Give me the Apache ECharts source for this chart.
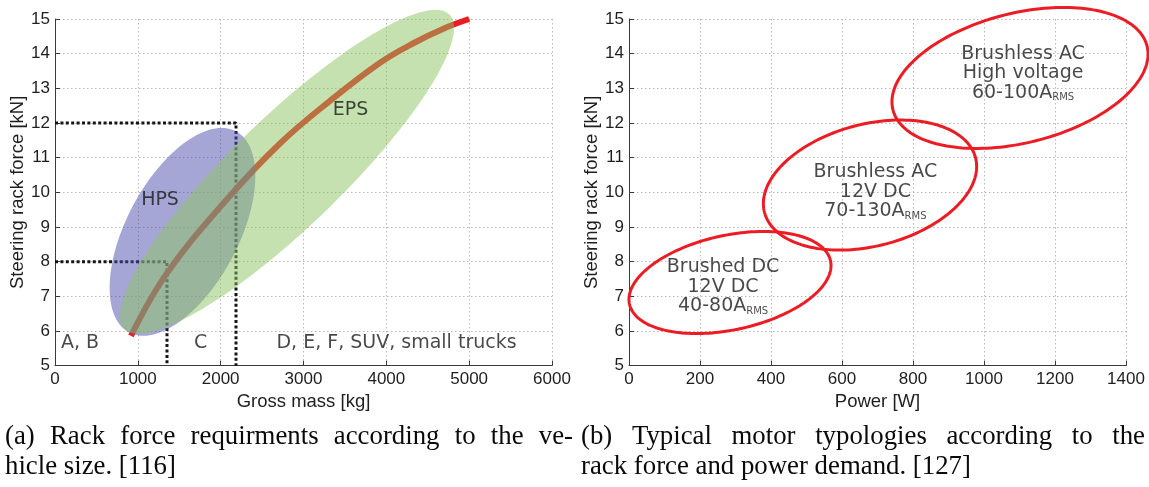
<!DOCTYPE html>
<html><head><meta charset="utf-8">
<script src="https://cdn.jsdelivr.net/npm/echarts@6/dist/echarts.min.js"></script>
<style>html,body{margin:0;padding:0;background:#fff}#c{width:1149px;height:487px}</style>
</head><body><div id="c"></div>
<script>
// ---------- Data: chart (a) ----------
const massTicksMax = 6000;
const massCurve  = [917, 1352, 2076, 2716, 3320, 3924, 4326, 4729, 5000];
const forceCurve = [5.86, 7.67, 9.80, 11.41, 12.64, 13.74, 14.30, 14.76, 15.0];
// ellipse: [centre mass, centre force, axis1 dMass, axis1 dForce, axis2 dMass, axis2 dForce]
const hpsRegion = [1539, 8.86, 646, 2.90, 597, -0.76];
const epsRegion = [2801, 10.59, 1963, 4.53, 461, -1.14];
const guide12 = [[0, 12], [2185, 12], [2185, 5]];
const guide8  = [[0, 8], [1352, 8], [1352, 5]];
const regionLabels = ['HPS', 'EPS', 'A, B', 'C', 'D, E, F, SUV, small trucks'];
const regionLabelMass  = [1268, 3568, 302, 1757, 4123];
const regionLabelForce = [9.78, 12.36, 5.64, 5.64, 5.64];

// ---------- Data: chart (b) ----------
const motorRegions = [
  [284.5, 7.40, 283.2, 0.622, 27.9, -1.334],
  [678.9, 10.21, 297.3, 0.787, 43.0, -1.703],
  [1101.4, 13.30, 357.9, 0.920, 44.5, -1.813]
];
const motorType    = ['Brushed DC', 'Brushless AC', 'Brushless AC'];
const motorVoltage = ['12V DC', '12V DC', 'High voltage'];
const motorCurrent = ['40-80A', '70-130A', '60-100A'];
const motorLabelPower = [265, 694, 1110];
const motorLabelForce = [7.27, 10.02, 13.43];

const captionA = ['(a) Rack force requirments according to the ve-', 'hicle size. [116]'];
const captionB = ['(b) Typical motor typologies according to the', 'rack force and power demand. [127]'];

// ---------- Styling ----------
const tickFont = '"Liberation Sans", Arial, sans-serif';
const txtFont = '"DejaVu Sans", Verdana, sans-serif';
const serif = '"Liberation Serif", "Times New Roman", serif';
const capSize = 26.8;

function ellipseSeries(idx, data, style, z) {
  return {
    type: 'custom', xAxisIndex: idx, yAxisIndex: idx, data: data, silent: true, clip: false, z: z,
    renderItem: function (params, api) {
      const cx = api.value(0), cy = api.value(1), ax = api.value(2), ay = api.value(3), bx = api.value(4), by = api.value(5);
      const pts = [];
      for (let i = 0; i < 180; i++) {
        const t = i / 180 * Math.PI * 2;
        pts.push(api.coord([cx + ax * Math.cos(t) + bx * Math.sin(t), cy + ay * Math.cos(t) + by * Math.sin(t)]));
      }
      return { type: 'polygon', shape: { points: pts }, style: style };
    }
  };
}

function axisCommon(min, max, interval, name, gap) {
  return {
    type: 'value', min: min, max: max, interval: interval, name: name,
    nameLocation: 'middle', nameGap: gap,
    nameTextStyle: { fontFamily: tickFont, fontSize: 18.5, color: '#1e1e1e' },
    axisLine: { show: true, lineStyle: { color: '#3a3a3a', width: 1 } },
    axisTick: { show: true, inside: true, length: 5, lineStyle: { color: '#3a3a3a' } },
    axisLabel: { fontFamily: tickFont, fontSize: 17, color: '#1e1e1e', margin: 5, formatter: v => String(v) },
    splitLine: { show: true, lineStyle: { color: '#b8b8b8', type: [1.5, 2.5], width: 1 } }
  };
}

const rich = {
  t: { fontFamily: txtFont, fontSize: 19, color: '#1a1a1a', lineHeight: 19.5 },
  s: { fontFamily: txtFont, fontSize: 10, color: '#1a1a1a', lineHeight: 6, verticalAlign: 'bottom' }
};

const series = [];
// guide lines (a)
[guide12, guide8].forEach(g => series.push({
  type: 'line', xAxisIndex: 0, yAxisIndex: 0, data: g, symbol: 'none', silent: true, z: 1,
  lineStyle: { color: '#151515', width: 3, type: [3, 2.4] }
}));
// rack force curve
series.push({
  type: 'line', xAxisIndex: 0, yAxisIndex: 0, smooth: 0.4, symbol: 'none', silent: true, z: 2,
  data: massCurve.map((m, i) => [m, forceCurve[i]]),
  lineStyle: { color: '#ed1c24', width: 6, cap: 'butt' }
});
series.push(ellipseSeries(0, [hpsRegion], { fill: 'rgba(77,77,173,0.5)', stroke: 'none' }, 3));
series.push(ellipseSeries(0, [epsRegion], { fill: 'rgba(139,195,95,0.5)', stroke: 'none' }, 4));
series.push({
  type: 'scatter', xAxisIndex: 0, yAxisIndex: 0, symbolSize: 0, silent: true, z: 5,
  data: regionLabels.map((l, i) => ({ value: [regionLabelMass[i], regionLabelForce[i]], name: l })),
  label: { show: true, position: 'inside', formatter: p => '{t|' + p.name + '}', rich: rich }
});
// (b)
series.push(ellipseSeries(1, motorRegions, { fill: 'none', stroke: '#ec1c24', lineWidth: 3 }, 3));
series.push({
  type: 'scatter', xAxisIndex: 1, yAxisIndex: 1, symbolSize: 0, silent: true, z: 5,
  data: motorType.map((t, i) => ({ value: [motorLabelPower[i], motorLabelForce[i]], name: String(i) })),
  label: {
    show: true, position: 'inside', rich: rich,
    formatter: p => { const i = +p.name; return '{t|' + motorType[i] + '}\n{t|' + motorVoltage[i] + '}\n{t|' + motorCurrent[i] + '}{s|RMS}'; }
  }
});

// captions as justified words
const ctx = document.createElement('canvas').getContext('2d');
ctx.font = capSize + 'px ' + serif;
function lineEls(text, x0, x1, y, justify) {
  const words = text.split(' ');
  const w = words.map(s => ctx.measureText(s).width);
  const tot = w.reduce((a, b) => a + b, 0);
  const gap = justify ? (x1 - x0 - tot) / (words.length - 1) : ctx.measureText(' ').width;
  let x = x0; const out = [];
  words.forEach((s, i) => {
    out.push({ type: 'text', x: x, y: y, silent: true,
      style: { text: s, fontFamily: serif, fontSize: capSize, fill: '#0a0a0a', align: 'left', verticalAlign: 'middle' } });
    x += w[i] + gap;
  });
  return out;
}
const graphics = [].concat(
  lineEls(captionA[0], 5, 573, 437, true), lineEls(captionA[1], 5, 573, 467, false),
  lineEls(captionB[0], 581, 1145, 437, true), lineEls(captionB[1], 581, 1145, 467, false)
);

const chart = echarts.init(document.getElementById('c'), null, { renderer: 'canvas' });
chart.setOption({
  animation: false,
  backgroundColor: '#fff',
  grid: [
    { left: 55, top: 19, width: 497, height: 346.7 },
    { left: 629, top: 19, width: 497, height: 346.7 }
  ],
  xAxis: [
    Object.assign(axisCommon(0, massTicksMax, 1000, 'Gross mass [kg]', 21), { gridIndex: 0 }),
    Object.assign(axisCommon(0, 1400, 200, 'Power [W]', 21), { gridIndex: 1 })
  ],
  yAxis: [
    Object.assign(axisCommon(5, 15, 1, 'Steering rack force [kN]', 24), { gridIndex: 0 }),
    Object.assign(axisCommon(5, 15, 1, 'Steering rack force [kN]', 25), { gridIndex: 1 })
  ],
  series: series,
  graphic: graphics
});
</script></body></html>
